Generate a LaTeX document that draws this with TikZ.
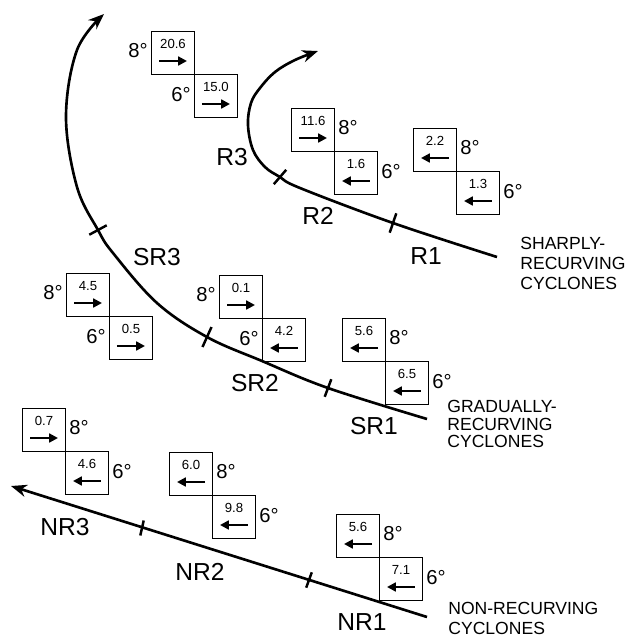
\documentclass[tikz,border=0pt]{standalone}
\usepackage{fontspec}
\setmainfont{Liberation Sans}
\usetikzlibrary{arrows.meta,calc,positioning}
\begin{document}
\begin{tikzpicture}[
    x=0.02cm, y=-0.02cm,
    >={Stealth[length=9pt,width=7pt]},
    caja/.style={
        draw,
        line width=0.7pt,
        minimum size=0.86cm,
        inner sep=0pt,
        outer sep=0pt
    },
    numero/.style={font=\fontsize{7.5}{8}\selectfont, inner sep=0pt},
    grado/.style={font=\fontsize{11.5}{13}\selectfont, inner sep=2pt},
    etiqueta/.style={font=\fontsize{14}{16}\selectfont},
    tipo/.style={
        font=\fontsize{10}{11.3}\selectfont,
        align=left,
        anchor=north west,
        inner sep=0pt
    },
    flecha/.style={-{Triangle[length=5pt,width=5pt]}, line width=1.5pt},
    trayectoria/.style={->, line width=1.5pt},
    marca/.style={line width=1.4pt}
]
    \useasboundingbox (0,0) rectangle (640,637);

    % pares de cajas: 8 grados arriba, 6 grados abajo
    \foreach \n/\x/\y/\va/\da/\vb/\db/\s/\t in {
        a/173/53/20.6/1/15.0/1/west/east,
        b/313/130/11.6/1/1.6/-1/east/west,
        c/435/150/2.2/-1/1.3/-1/east/west,
        d/88/295/4.5/1/0.5/1/west/east,
        e/241/297/0.1/1/4.2/-1/west/east,
        f/364/340/5.6/-1/6.5/-1/east/west,
        g/44/430/0.7/1/4.6/-1/east/west,
        h/191/474/6.0/-1/9.8/-1/east/west,
        i/358/536/5.6/-1/7.1/-1/east/west}
    {
        \node[caja] (\n8) at (\x,\y) {};
        \node[caja, anchor=north west] (\n6) at (\n8.south east) {};
        \node[numero] at ($(\n8.center)+(0,-9)$) {\va};
        \node[numero] at ($(\n6.center)+(0,-9)$) {\vb};
        \draw[flecha] ($(\n8.center)+(-14*\da,8)$) -- ($(\n8.center)+(14*\da,8)$);
        \draw[flecha] ($(\n6.center)+(-14*\db,8)$) -- ($(\n6.center)+(14*\db,8)$);
        \node[grado, anchor=\t] at ($(\n8.\s)+(0,-2)$) {8°};
        \node[grado, anchor=\t] at ($(\n6.\s)+(0,-1)$) {6°};
    }

    % no recurvas
    \coordinate (nrIni) at (427,617);
    \coordinate (nrFin) at (11,486);
    \coordinate (nrM1) at (309,580);
    \coordinate (nrM2) at (142,528);
    \draw[trayectoria] (nrIni) -- (nrFin);
    \draw[marca] ($(nrM1)+(2.8,-7.7)$) -- ($(nrM1)-(2.8,-7.7)$);
    \draw[marca] ($(nrM2)+(1.7,-7.5)$) -- ($(nrM2)-(1.7,-7.5)$);

    % recurvas graduales
    \coordinate (srIni) at (427,419);
    \coordinate (srM1) at (328,388);
    \coordinate (srM2) at (207,337);
    \coordinate (srM3) at (98,230);
    \coordinate (srFin) at (104,14);
    \draw[trayectoria] plot[smooth, tension=0.6] coordinates {
        (srIni) (srM1) (262,361) (srM2) (157,303) (113,253) (srM3)
        (77,187) (66,117) (77,50) (srFin)};
    \draw[marca] ($(srM1)+(3.3,-8.8)$) -- ($(srM1)-(3.3,-8.8)$);
    \draw[marca] ($(srM2)+(4.5,-10)$) -- ($(srM2)-(4.5,-10)$);
    \draw[marca] ($(srM3)+(8.7,-4.7)$) -- ($(srM3)-(8.7,-4.7)$);

    % recurvas bruscas
    \coordinate (rIni) at (497,257);
    \coordinate (rM1) at (393,223);
    \coordinate (rM2) at (280,177);
    \coordinate (rFin) at (318,51);
    \draw[trayectoria] plot[smooth, tension=0.6] coordinates {
        (rIni) (rM1) (300,188) (rM2) (265,167) (253,150) (248,125)
        (251,103) (260,88) (275,72) (295,60) (rFin)};
    \draw[marca] ($(rM1)+(3.3,-9.7)$) -- ($(rM1)-(3.3,-9.7)$);
    \draw[marca] ($(rM2)+(6.2,-7.2)$) -- ($(rM2)-(6.2,-7.2)$);

    % etiquetas de tramos
    \node[etiqueta] (nr3) at (65,527) {NR3};
    \node[etiqueta] (nr2) at (200,572) {NR2};
    \node[etiqueta] (nr1) at (362,622) {NR1};
    \node[etiqueta] (sr3) at (157,257) {SR3};
    \node[etiqueta] (sr2) at (255,383) {SR2};
    \node[etiqueta] (sr1) at (374,426) {SR1};
    \node[etiqueta] (r3) at (232,157) {R3};
    \node[etiqueta] (r2) at (318,216) {R2};
    \node[etiqueta] (r1) at (426,256) {R1};

    \node[tipo] (bruscas) at (520,237) {SHARPLY-\\RECURVING\\CYCLONES};
    \node[tipo, font=\fontsize{10}{9.9}\selectfont] (graduales) at (447,400)
        {GRADUALLY-\\RECURVING\\CYCLONES};
    \node[tipo] (norecurvas) at (448,602) {NON-RECURVING\\CYCLONES};
\end{tikzpicture}
\end{document}
